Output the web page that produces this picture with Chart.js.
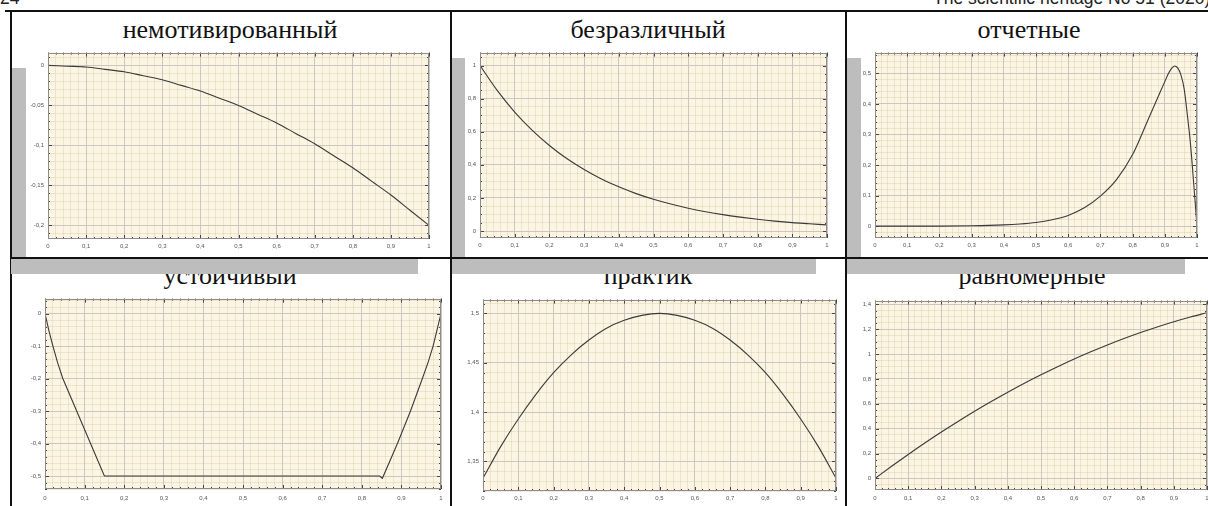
<!DOCTYPE html>
<html>
<head>
<meta charset="utf-8">
<script src="https://cdn.jsdelivr.net/npm/chart.js@4.4.1/dist/chart.umd.min.js"></script>
<style>
body { margin: 0; width: 1208px; height: 506px; overflow: hidden; background: #fff; position: relative; }
.line { position: absolute; background: #111; }
.shadow { position: absolute; background: #bdbdbd; z-index: 3; }
.title { position: absolute; width: 400px; text-align: center; font-family: 'Liberation Serif', 'Times New Roman', serif; font-size: 26px; line-height: 30px; color: #111; z-index: 1; white-space: nowrap; }
.hdr { position: absolute; top: -10px; font-family: 'Liberation Sans', Arial, sans-serif; font-size: 17.5px; line-height: 16px; white-space: nowrap; color: #222; }
canvas { position: absolute; z-index: 2; }
</style>
</head>
<body>
<div class="hdr" style="left:0">24</div>
<div class="hdr" style="left:933px">The scientific heritage No 51 (2020)</div>

<div class="line" style="left:5px;top:10px;width:1203px;height:2px"></div>
<div class="line" style="left:10px;top:11px;width:2px;height:495px"></div>
<div class="line" style="left:450px;top:11px;width:2px;height:495px"></div>
<div class="line" style="left:845px;top:11px;width:2px;height:495px"></div>
<div class="line" style="left:10px;top:257px;width:1198px;height:2px"></div>

<div class="shadow" style="left:12px;top:68px;width:14px;height:189px"></div>
<div class="shadow" style="left:11px;top:259px;width:407px;height:15px"></div>
<div class="shadow" style="left:452px;top:58px;width:13px;height:199px"></div>
<div class="shadow" style="left:452px;top:259px;width:364px;height:15px"></div>
<div class="shadow" style="left:847px;top:58px;width:14px;height:199px"></div>
<div class="shadow" style="left:847px;top:259px;width:338px;height:15px"></div>

<div class="title" style="left:30px;top:15px">немотивированный</div>
<div class="title" style="left:448px;top:15px">безразличный</div>
<div class="title" style="left:829px;top:15px">отчетные</div>
<div class="title" style="left:30px;top:261px">устойчивый</div>
<div class="title" style="left:448px;top:261px">практик</div>
<div class="title" style="left:832px;top:261px">равномерные</div>

<canvas id="c1"></canvas>
<canvas id="c2"></canvas>
<canvas id="c3"></canvas>
<canvas id="c4"></canvas>
<canvas id="c5"></canvas>
<canvas id="c6"></canvas>

<script>
// shared x grid (0 .. 1 step 0.05)
const xCommon = [0, 0.05, 0.1, 0.15, 0.2, 0.25, 0.3, 0.35, 0.4, 0.45, 0.5, 0.55, 0.6, 0.65, 0.7, 0.75, 0.8, 0.85, 0.9, 0.95, 1];

const yUnmotivated = [0, -0.001, -0.002, -0.005, -0.008, -0.013, -0.018, -0.025, -0.032, -0.041, -0.05,
  -0.061, -0.072, -0.085, -0.098, -0.113, -0.128, -0.145, -0.162, -0.181, -0.2];

const yIndifferent = [1, 0.848, 0.719, 0.61, 0.517, 0.438, 0.372, 0.315, 0.267, 0.226, 0.192,
  0.163, 0.138, 0.117, 0.099, 0.084, 0.071, 0.06, 0.051, 0.044, 0.037];

const xReporting = [0, 0.1, 0.2, 0.3, 0.4, 0.45, 0.5, 0.55, 0.6, 0.65, 0.7, 0.75, 0.8, 0.85, 0.9,
  0.91, 0.92, 0.93, 0.94, 0.95, 0.96, 0.97, 0.98, 0.99, 1];
const yReporting = [0, 0, 0, 0.001, 0.004, 0.007, 0.012, 0.021, 0.035, 0.06, 0.098, 0.152, 0.234, 0.353, 0.473,
  0.497, 0.515, 0.524, 0.518, 0.495, 0.45, 0.364, 0.266, 0.136, 0];

const xStable = [0, 0.01, 0.02, 0.032, 0.045, 0.08, 0.115, 0.15, 0.5, 0.845, 0.852, 0.89, 0.923, 0.953, 0.968, 0.98, 0.99, 1];
const yStable = [0, -0.053, -0.1, -0.152, -0.2, -0.3, -0.4, -0.5, -0.5, -0.5, -0.507, -0.4, -0.3, -0.2, -0.148, -0.1, -0.05, 0];

const yPractical = [1.333, 1.365, 1.393, 1.418, 1.44, 1.458, 1.473, 1.485, 1.493, 1.498, 1.5,
  1.498, 1.493, 1.485, 1.473, 1.458, 1.44, 1.418, 1.393, 1.365, 1.333];

const yUniform = [0, 0.098, 0.193, 0.285, 0.373, 0.458, 0.54, 0.618, 0.693, 0.765, 0.833,
  0.898, 0.96, 1.018, 1.073, 1.125, 1.173, 1.218, 1.26, 1.298, 1.333];

const labelFont = { family: "'Liberation Sans Narrow', 'Arial Narrow', 'Liberation Sans', Arial", size: 6 };

function isMajor(v, step) {
  return Math.abs(Math.round(v / step) * step - v) < 1e-7;
}
function fmt(v) {
  const r = Math.round(v * 1000) / 1000;
  return String(r).replace('.', ',');
}

function frame(xMajor, yMajor) {
  return {
    id: 'frame',
    beforeDraw(chart) {
      const a = chart.chartArea, c = chart.ctx;
      c.save();
      c.fillStyle = '#fdf5e3';
      c.fillRect(a.left, a.top, a.right - a.left, a.bottom - a.top);
      c.restore();
    },
    afterDraw(chart) {
      const a = chart.chartArea, c = chart.ctx;
      const sx = chart.scales.x, sy = chart.scales.y;
      c.save();
      c.strokeStyle = '#444';
      c.lineWidth = 1;
      c.beginPath();
      sx.ticks.forEach(t => {
        const p = Math.round(sx.getPixelForValue(t.value)) + 0.5;
        const len = isMajor(t.value, xMajor) ? 4 : 2;
        c.moveTo(p, a.bottom); c.lineTo(p, a.bottom - len);
        c.moveTo(p, a.top); c.lineTo(p, a.top + len);
      });
      sy.ticks.forEach(t => {
        const p = Math.round(sy.getPixelForValue(t.value)) + 0.5;
        const len = isMajor(t.value, yMajor) ? 4 : 2;
        c.moveTo(a.left, p); c.lineTo(a.left + len, p);
        c.moveTo(a.right, p); c.lineTo(a.right - len, p);
      });
      c.stroke();
      c.strokeStyle = '#8c8c8c';
      c.strokeRect(Math.round(a.left) + 0.5, Math.round(a.top) + 0.5,
        Math.round(a.right - a.left) - 1, Math.round(a.bottom - a.top) - 1);
      c.restore();
    }
  };
}

function panel(id, box, xs, ys, yRange, ySteps, smooth) {
  const yw = 30, padTop = 6, padRight = 8, xh = 14;
  const cv = document.getElementById(id);
  cv.width = box.R - box.L + yw + padRight;
  cv.height = box.B - box.T + padTop + xh;
  cv.style.left = (box.L - yw) + 'px';
  cv.style.top = (box.T - padTop) + 'px';

  const gridColor = (major) => (ctx) =>
    isMajor(ctx.tick.value, major) ? '#cdc6bd' : 'rgba(205,185,150,0.3)';

  new Chart(cv.getContext('2d'), {
    type: 'line',
    data: {
      datasets: [{
        data: xs.map((x, i) => ({ x: x, y: ys[i] })),
        borderColor: '#3a3a3a',
        borderWidth: 1.1,
        pointRadius: 0,
        tension: 0,
        cubicInterpolationMode: smooth ? 'monotone' : 'default'
      }]
    },
    options: {
      responsive: false,
      animation: false,
      layout: { padding: { top: padTop, right: padRight, left: 0, bottom: 0 } },
      plugins: { legend: { display: false }, tooltip: { enabled: false } },
      scales: {
        x: {
          type: 'linear', min: 0, max: 1,
          afterFit: s => { s.height = xh; },
          border: { display: false },
          grid: { drawTicks: false, color: gridColor(0.1), lineWidth: 1 },
          ticks: {
            stepSize: 0.02, includeBounds: false, autoSkip: false, maxRotation: 0, minRotation: 0,
            padding: box.xPad, font: labelFont, color: '#555',
            callback: v => isMajor(v, 0.1) ? fmt(v) : ''
          }
        },
        y: {
          type: 'linear', min: yRange[0], max: yRange[1],
          afterFit: s => { s.width = yw; },
          border: { display: false },
          grid: { drawTicks: false, color: gridColor(ySteps[1]), lineWidth: 1 },
          ticks: {
            stepSize: ySteps[0], includeBounds: false, autoSkip: false,
            padding: 4, font: labelFont, color: '#555',
            callback: v => isMajor(v, ySteps[1]) ? fmt(v) : ''
          }
        }
      }
    },
    plugins: [frame(0.1, ySteps[1])]
  });
}

panel('c1', { L: 48, T: 51, R: 429, B: 239, xPad: 4 }, xCommon, yUnmotivated, [-0.217, 0.016], [0.01, 0.05], true);
panel('c2', { L: 480, T: 51, R: 827, B: 238, xPad: 4 }, xCommon, yIndifferent, [-0.042, 1.078], [0.05, 0.2], true);
panel('c3', { L: 875, T: 51, R: 1197, B: 238, xPad: 4 }, xReporting, yReporting, [-0.039, 0.568], [0.02, 0.1], true);
panel('c4', { L: 45, T: 297, R: 441, B: 489, xPad: 6 }, xStable, yStable, [-0.54, 0.046], [0.02, 0.1], false);
panel('c5', { L: 483, T: 298, R: 836, B: 491, xPad: 4 }, xCommon, yPractical, [1.32, 1.514], [0.01, 0.05], true);
panel('c6', { L: 875, T: 299, R: 1207, B: 490, xPad: 5 }, xCommon, yUniform, [-0.093, 1.43], [0.05, 0.2], true);
</script>
</body>
</html>
